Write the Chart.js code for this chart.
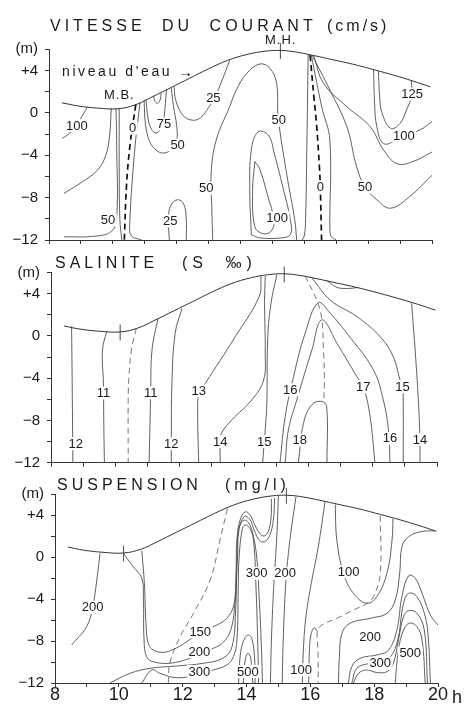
<!DOCTYPE html>
<html><head><meta charset="utf-8">
<script src="https://cdn.jsdelivr.net/npm/chart.js@4/dist/chart.umd.min.js"></script>
<style>
html,body{margin:0;padding:0;background:#fff;}
#wrap{position:relative;width:465px;height:706px;overflow:hidden;font-family:"Liberation Sans",Arial,sans-serif;color:#1a1a1a;}
canvas{position:absolute;left:0;}
.t{position:absolute;white-space:pre;line-height:1;z-index:3;}
.ti{font-size:16px;letter-spacing:4px;word-spacing:8px;}
</style></head><body>
<div id="wrap">
<canvas id="c1" width="465" height="262" style="top:0"></canvas>
<canvas id="c2" width="465" height="236" style="top:250px"></canvas>
<canvas id="c3" width="465" height="236" style="top:470px"></canvas>
<div class="t ti" style="left:50px;top:18px">VITESSE DU COURANT</div>
<div class="t ti" style="left:327px;top:18px;letter-spacing:3px">(cm/s)</div>
<div class="t" style="left:265px;top:33px;font-size:13px;letter-spacing:1px">M.H.</div>
<div class="t" style="left:104px;top:88px;font-size:13px;letter-spacing:1px">M.B.</div>
<div class="t" style="left:62px;top:64px;font-size:14px;letter-spacing:2.6px">niveau d'eau</div>
<div class="t" style="left:178px;top:64px;font-size:15px">&#8594;</div>
<div class="t ti" style="left:55px;top:255px">SALINITE</div>
<div class="t ti" style="left:182px;top:255px;letter-spacing:5px">(S ‰)</div>
<div class="t ti" style="left:57px;top:477px">SUSPENSION</div>
<div class="t ti" style="left:225px;top:477px;letter-spacing:4px">(mg/l)</div>
<div class="t" style="left:452px;top:688px;font-size:18px">h</div>
</div>
<script>
// ---------- shared data: hour (h), level (m) ----------
const waterLevel = [[8.4,0.95],[8.9,0.65],[9.5,0.45],[10.15,0.38],[10.7,0.75],[11.2,1.45],[11.8,2.35],[12.4,3.25],[13.0,4.15],[13.6,4.95],[14.2,5.5],[14.8,5.82],[15.3,5.88],[15.8,5.7],[16.3,5.4],[16.9,5.0],[17.5,4.6],[18.2,4.05],[18.8,3.55],[19.4,3.0],[19.95,2.45]];
const tideMarks = [[10.15,0.38],[15.25,5.88]];
const xTickLabels = ['8','10','12','14','16','18','20'];

// ---------- VITESSE DU COURANT (cm/s) ----------
const v100Left = [[9.2,0.55],[9.02,-0.4],[8.85,-1.3],[8.62,-2.0],[8.42,-2.4]];
const v75Left = [[8.47,-7.6],[9.05,-6.5],[9.52,-5.4],[9.78,-4.0],[9.9,-2.1],[9.95,0.42]];
const v50Left = [[10.1,0.4],[10.12,-3],[10.12,-9.9],[9.95,-11.2],[9.4,-11.65],[8.47,-11.7]];
const v25Left = [[10.2,0.4],[10.2,-5],[10.22,-10],[10.28,-12]];
const v0Left = [[10.72,0.8],[10.54,-3.0],[10.43,-6.8],[10.36,-12]];
const v25Right = [[10.85,0.95],[10.68,-3.7],[10.53,-10.5],[10.58,-11.6],[10.9,-12]];
const v75Small = [[11.28,1.6],[11.32,1.1],[11.4,0.9],[11.48,1.2],[11.52,1.95]];
const v75 = [[11.04,1.25],[11.1,-0.5],[11.2,-1.5],[11.35,-1.9],[11.5,-1.5],[11.6,-0.5],[11.68,2.25]];
const v50 = [[10.98,1.15],[11.02,-1.0],[11.14,-2.6],[11.35,-3.5],[11.6,-3.8],[11.85,-3.4],[12.0,-2.6],[12.0,-1.2],[11.9,0.6],[11.83,2.35]];
const v25Top = [[11.92,2.45],[11.97,1.2],[12.2,-0.25],[12.5,-0.7],[12.75,-0.45],[13.0,0.5],[13.2,1.5],[13.4,2.9],[13.66,4.95]];
const v25Bottom = [[11.77,-12],[11.74,-10],[11.82,-8.7],[12.03,-8.2],[12.22,-8.6],[12.3,-10],[12.3,-12]];
const v50Big = [[13.13,-12],[13.1,-8.9],[13.08,-5.7],[13.24,-2.57],[13.66,0.58],[13.87,2.15],[14.19,3.7],[14.6,4.6],[14.92,4.2],[15.13,2.8],[15.18,-0.37],[15.44,-5.65],[15.7,-10.1],[15.76,-12]];
const v75Loop = [[14.34,-11.5],[14.29,-7.3],[14.34,-3.5],[14.55,-1.8],[14.87,-2.1],[15.08,-4.1],[15.35,-7.3],[15.58,-10.4],[15.56,-11.5],[15.3,-11.8],[14.6,-11.8],[14.34,-11.5]];
const v100Loop = [[14.45,-4.6],[14.38,-7.3],[14.45,-10.75],[14.7,-11.4],[14.95,-11.2],[15.05,-10.2],[14.85,-7.8],[14.6,-5.3],[14.45,-4.6]];
const v25Mid = [[16.12,5.45],[16.08,-3],[16.04,-10],[16.0,-11.6],[15.93,-12]];
const v0Right = [[16.18,5.45],[16.3,1.5],[16.38,-1.0],[16.47,-5],[16.5,-7.0],[16.54,-12]];
const v25Right2 = [[16.22,5.42],[16.55,0.5],[16.8,-2.57],[16.8,-11.0],[16.85,-11.7],[17.0,-12]];
const v50Right = [[16.25,5.4],[16.8,2.15],[17.33,-1.3],[17.64,-5.1],[17.9,-7.0],[18.27,-8.2],[18.7,-9.0],[19.3,-7.9],[20.0,-5.9]];
const v75Right = [[16.3,5.35],[16.6,2.8],[17.33,0.58],[18.06,-1.3],[18.48,-3.5],[18.9,-4.8],[19.4,-4.6],[20.0,-3.7]];
const v100Right = [[18.17,4.05],[18.2,1.0],[18.27,-1.3],[18.48,-2.9],[18.9,-2.57],[19.1,-2.2],[19.63,-1.6],[20.0,-0.84]];
const v125 = [[18.32,3.95],[18.36,1.5],[18.43,0.04],[18.7,-1.46],[19.0,-1.0],[19.2,0.26],[19.37,1.68],[19.35,3.05]];
const vitesseLabels = [['100',8.87,-1.2],['0',10.62,-1.45],['75',11.6,-1.05],['50',12.03,-3.05],['25',13.15,1.45],['50',9.85,-10.1],['25',11.8,-10.2],['50',12.93,-7.1],['50',15.2,-0.7],['100',15.15,-9.9],['0',16.5,-7.0],['50',17.9,-7.0],['100',19.12,-2.2],['125',19.38,1.75]];

// ---------- SALINITE (S ‰) ----------
const s12a = [[8.64,0.9],[8.66,-5],[8.68,-12]];
const s11a = [[9.73,0.42],[9.6,-1.33],[9.63,-4.48],[9.64,-8],[9.66,-12]];
const sDashA = [[10.65,0.72],[10.5,-1.33],[10.42,-4],[10.4,-6.0],[10.4,-12]];
const s11b = [[11.32,1.6],[11.14,-1.33],[11.1,-5.4],[11.05,-12]];
const s12b = [[12.07,2.6],[11.86,0.25],[11.76,-4.5],[11.74,-10.2],[11.74,-12]];
const s13 = [[14.53,5.65],[14.47,3.72],[13.73,-0.06],[12.8,-4.48],[12.6,-5.5],[12.56,-7],[12.59,-12]];
const s14a = [[14.66,5.68],[14.64,3.1],[14.66,-1.64],[14.61,-4.17],[14.24,-6.06],[13.62,-7.95],[13.3,-9.2],[13.26,-10.0],[13.26,-12]];
const s15a = [[15.02,5.8],[14.84,3.1],[14.74,-0.06],[14.71,-6.37],[14.66,-8.9],[14.63,-10.0],[14.58,-12]];
const s16 = [[15.12,-12],[15.28,-7.64],[15.54,-3.85],[15.9,0.25],[16.31,3.15],[16.68,2.15],[17.2,0.25],[18.02,-3.2],[18.33,-6.06],[18.49,-8.9],[18.54,-12]];
const s17 = [[15.28,-12],[15.38,-8.9],[15.64,-6.06],[16.11,-1.33],[16.42,1.52],[16.89,-0.7],[17.51,-3.85],[17.71,-4.8],[17.92,-7.64],[18.07,-12]];
const s18 = [[15.69,-12],[15.85,-8.27],[16.11,-6.5],[16.42,-6.2],[16.57,-6.7],[16.58,-12]];
const sDashB = [[15.9,5.7],[16.28,3.25],[16.42,1.52],[16.47,-1.33],[16.5,-4],[16.48,-6.2]];
const s15b = [[16.11,5.5],[16.68,3.4],[17.51,1.83],[18.23,-0.06],[18.64,-1.96],[18.85,-4.17],[18.93,-4.8],[18.95,-6.06],[18.95,-12]];
const sSmall = [[16.57,5.25],[16.89,4.6],[17.25,4.5],[17.56,4.6]];
const s14b = [[19.21,3.1],[19.32,-1.33],[19.42,-6.06],[19.47,-9.8],[19.47,-12]];
const saliniteLabels = [['12',8.77,-10.2],['11',9.63,-5.4],['11',11.1,-5.4],['12',11.74,-10.2],['13',12.59,-5.2],['14',13.26,-10.0],['15',14.63,-10.0],['16',15.44,-5.1],['18',15.73,-9.85],['17',17.71,-4.8],['15',18.93,-4.8],['16',18.54,-9.7],['14',19.47,-9.8]];

// ---------- SUSPENSION (mg/l) ----------
const p200Left = [[9.41,0.35],[9.31,-2.19],[9.18,-4.79],[8.99,-6.64],[8.52,-8.38]];
const p150 = [[10.72,0.6],[10.8,-2.5],[10.85,-6.3],[10.92,-8.2],[11.08,-8.86],[11.4,-9.08],[11.71,-8.79],[12.02,-8.29],[12.55,-7.2],[13.07,-6.48],[13.38,-5.84],[13.6,-4.6],[13.67,-1.55],[13.7,1.62],[13.8,3.52],[13.96,4.3],[14.11,4.0],[14.24,3.2],[14.4,2.3],[14.55,2.0],[14.68,2.4],[14.77,3.8],[14.78,5.55]];
const p200 = [[10.14,0.35],[10.45,-0.92],[10.72,-2.03],[10.77,-3.78],[10.79,-7.9],[10.87,-9.5],[11.08,-9.97],[11.6,-10.12],[12.23,-9.65],[12.52,-9.2],[12.96,-8.7],[13.28,-8.1],[13.5,-7.0],[13.62,-5],[13.72,0],[13.76,2.5],[13.93,3.85],[14.1,3.6],[14.25,2.5],[14.4,1.6],[14.56,1.45],[14.72,2.0],[14.84,3.5],[14.88,5.6]];
const p250 = [[9.72,-12],[10.35,-11.08],[10.98,-10.6],[11.81,-10.38],[12.65,-10.12],[13.28,-9.6],[13.55,-8.5],[13.66,-5],[13.7,0],[13.74,2.5],[13.85,3.35],[13.96,3.5],[14.08,3.2],[14.2,2.2],[14.32,0],[14.4,-4],[14.46,-8],[14.5,-12]];
const p300 = [[10.72,-12],[11.03,-10.76],[11.29,-11.08],[11.81,-11.5],[12.5,-11.2],[12.96,-10.76],[13.38,-10.29],[13.59,-9.5],[13.7,-7.9],[13.74,-3.14],[13.77,0.03],[13.87,2.7],[13.96,3.05],[14.1,2.75],[14.22,1.62],[14.3,-3.14],[14.35,-7.9],[14.38,-12]];
const p500a = [[13.75,-12],[13.82,-9],[13.95,-7.7],[14.06,-7.43],[14.17,-7.8],[14.25,-9.5],[14.27,-12]];
const p500b = [[13.9,-12],[13.95,-10],[14.04,-9.17],[14.13,-9.6],[14.2,-12]];
const pQ = [[15.0,5.85],[14.95,2.0],[14.85,-3],[14.78,-8],[14.75,-12]];
const pP = [[15.55,5.72],[15.42,3],[15.3,0],[15.22,-3],[15.15,-8],[15.12,-12]];
const pR = [[16.46,5.25],[16.25,1],[16.0,-3],[15.85,-6],[15.78,-9],[15.75,-12]];
const p100Loop = [[15.95,-12],[15.97,-9],[16.02,-7.4],[16.12,-6.75],[16.22,-7.1]];
const pDash1 = [[13.4,4.6],[13.17,1.62],[12.86,-2.19],[12.34,-5.36],[11.92,-7.59],[11.6,-10.1],[11.55,-12]];
const pDash2 = [[18.19,3.95],[18.19,-1.55],[17.98,-3.78],[17.77,-4.41],[17.35,-5.05],[16.83,-5.84],[16.35,-6.5],[16.22,-7.1],[16.24,-9],[16.25,-12]];
const p100U = [[16.78,5.0],[16.83,1.62],[17.04,-1.55],[17.35,-3.46],[17.77,-4.41],[18.08,-3.78],[18.4,-1.55],[18.56,1.62],[18.59,3.65]];
const p200Right = [[19.91,2.5],[19.44,2.4],[19.08,1.93],[18.87,0.98],[18.8,-1.55],[18.66,-4.1],[18.4,-5.36],[17.87,-5.84],[17.25,-6.3],[16.99,-7.27],[16.91,-9.5],[16.88,-12]];
const p200b = [[17.19,-12],[17.3,-10.44],[17.56,-9.65],[18.08,-9.33],[18.45,-8.86],[18.71,-6.95],[18.87,-3.78],[19.08,-1.78],[19.29,-2.03],[19.5,-3.46],[19.76,-5.52],[20.0,-6.48]];
const p250R = [[17.3,-12],[17.46,-10.6],[17.87,-10.12],[18.4,-9.8],[18.71,-8.22],[18.92,-4.41],[19.08,-3.46],[19.34,-3.78],[19.6,-5.68],[19.7,-7.9],[19.76,-12]];
const p300R = [[17.35,-12],[17.51,-11.08],[17.77,-10.76],[18.08,-11.0],[18.4,-10.92],[18.6,-10.12],[18.76,-7.9],[18.92,-5.68],[19.08,-5.11],[19.34,-5.36],[19.57,-6.95],[19.67,-12]];
const p500R = [[18.66,-12],[18.76,-8.86],[18.92,-6.95],[19.11,-6.3],[19.34,-6.63],[19.5,-7.9],[19.6,-12]];
const suspensionLabels = [['200',9.18,-4.79],['150',12.55,-7.11],['200',12.52,-9.02],['300',12.52,-10.9],['500',14.04,-10.9],['300',14.32,-1.56],['200',15.21,-1.56],['100',15.71,-10.76],['100',17.2,-1.4],['200',17.87,-7.59],['300',18.19,-10.12],['500',19.13,-9.17]];

// ---------- grouping ----------
const vitesseSolid = [v100Left,v75Left,v50Left,v25Left,v25Right,v75Small,v75,v50,v25Top,v25Bottom,v50Big,v75Loop,v100Loop,v25Mid,v25Right2,v50Right,v75Right,v100Right,v125];
const vitesseDashed = [v0Left,v0Right];
const saliniteSolid = [s12a,s11a,s11b,s12b,s13,s14a,s15a,s16,s17,s18,s15b,sSmall,s14b];
const saliniteDashed = [sDashA,sDashB];
const suspensionSolid = [p200Left,p150,p200,p250,p300,p500a,p500b,pQ,pP,pR,p100Loop,p100U,p200Right,p200b,p250R,p300R,p500R];
const suspensionDashed = [pDash1,pDash2];

const FONT = '"Liberation Sans", Arial, sans-serif';
const INK = '#1a1a1a', LINE = '#4e4e4e';

const labelPlugin = {
  id: 'contourLabels',
  afterDatasetsDraw(chart, args, opts) {
    const {ctx} = chart; const x = chart.scales.x, y = chart.scales.y;
    ctx.save();
    ctx.font = '13px ' + FONT;
    ctx.textAlign = 'center'; ctx.textBaseline = 'middle';
    (opts.items || []).forEach(([t, h, m]) => {
      const px = x.getPixelForValue(h), py = y.getPixelForValue(m);
      const w = ctx.measureText(t).width;
      ctx.fillStyle = '#fff';
      ctx.fillRect(px - w/2 - 1.5, py - 6.5, w + 3, 13);
      ctx.fillStyle = INK;
      ctx.fillText(t, px, py + 0.5);
    });
    ctx.restore();
  }
};

function ds(points, extra) {
  return Object.assign({
    data: points.map(p => ({x: p[0], y: p[1]})),
    showLine: true, borderColor: LINE, borderWidth: 0.9, pointRadius: 0,
    tension: 0.4, fill: false
  }, extra || {});
}

function makePanel(id, solid, dashed, labels, lay, dashStyle) {
  const datasets = [];
  datasets.push(ds(waterLevel, {borderColor: '#333', borderWidth: 1}));
  tideMarks.filter((t, i) => lay.marks.includes(i)).forEach(([h, lvl]) => {
    datasets.push(ds([[h, lvl - 0.8], [h, lvl + 0.7]], {tension: 0, clip: false, borderColor: '#333'}));
  });
  solid.forEach(c => datasets.push(ds(c)));
  dashed.forEach(c => datasets.push(ds(c, dashStyle)));
  return new Chart(document.getElementById(id), {
    type: 'scatter',
    data: {datasets},
    plugins: [labelPlugin],
    options: {
      responsive: false, animation: false,
      layout: {padding: {top: lay.pt, right: lay.pr, bottom: 0, left: 0}},
      plugins: {legend: {display: false}, tooltip: {enabled: false}, contourLabels: {items: labels}},
      scales: {
        x: {
          type: 'linear', min: 8, max: 20,
          afterFit: s => { s.height = lay.xh; },
          afterBuildTicks: s => { s.ticks = []; for (let v = 8; v <= 20; v++) s.ticks.push({value: v}); },
          ticks: {display: lay.showX, autoSkip: false, maxRotation: 0, padding: -3,
            callback: v => (v % 2 === 0 ? xTickLabels[(v - 8) / 2] : ''),
            font: {size: 18, family: FONT}, color: INK},
          grid: {display: true, drawOnChartArea: false, drawTicks: true, tickLength: 4, color: '#333'},
          border: {display: true, color: '#333', width: 1}
        },
        y: {
          min: -12, max: 6,
          afterFit: s => { s.width = lay.yw; },
          afterBuildTicks: s => { s.ticks = []; for (let v = -12; v <= 6; v += 2) s.ticks.push({value: v}); },
          ticks: {autoSkip: false, padding: 7,
            callback: v => v === 6 ? '(m)' : (v % 4 === 0 ? (v > 0 ? '+' + v : (v < 0 ? '\u2212' + Math.abs(v) : '0')) : ''),
            font: {size: 15, family: FONT}, color: INK},
          grid: {display: true, drawOnChartArea: false, drawTicks: true, tickLength: 4, color: '#333'},
          border: {display: true, color: '#333', width: 1}
        }
      }
    }
  });
}

makePanel('c1', vitesseSolid, vitesseDashed, vitesseLabels,
  {pt: 49.2, pr: 33, yw: 49, xh: 22, showX: false, marks: [1]},
  {borderDash: [6, 4], borderWidth: 1.7, borderColor: '#111'});
makePanel('c2', saliniteSolid, saliniteDashed, saliniteLabels,
  {pt: 22.6, pr: 28, yw: 51, xh: 23.3, showX: false, marks: [0, 1]},
  {borderDash: [6, 4], borderWidth: 0.9, borderColor: '#666'});
makePanel('c3', suspensionSolid, suspensionDashed, suspensionLabels,
  {pt: 24, pr: 27, yw: 55, xh: 23, showX: true, marks: [0, 1]},
  {borderDash: [6, 4], borderWidth: 0.9, borderColor: '#666'});
</script>
</body></html>
